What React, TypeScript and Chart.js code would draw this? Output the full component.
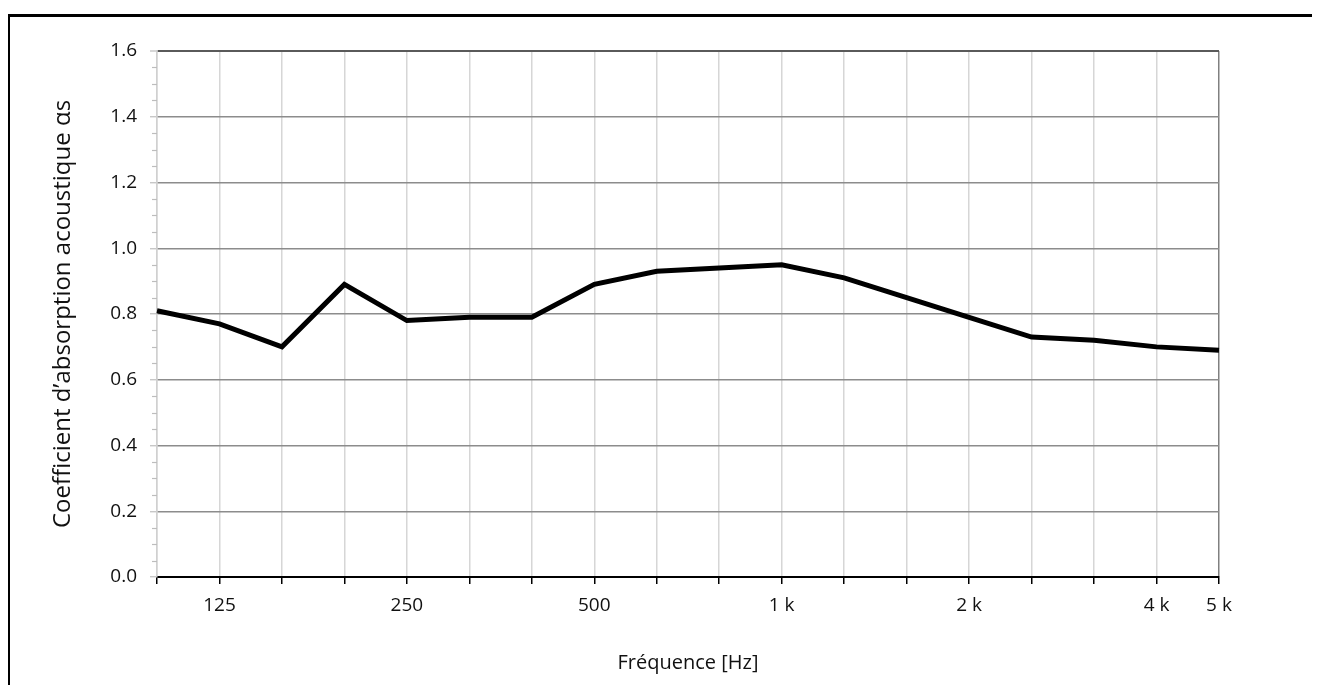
import React, { useEffect, useRef } from "react";
import { Chart, registerables } from "chart.js";

Chart.register(...registerables);

const frequencies = ["100", "125", "160", "200", "250", "315", "400", "500", "630", "800", "1000", "1250", "1600", "2000", "2500", "3150", "4000", "5000"];
const absorption = [0.81, 0.77, 0.70, 0.89, 0.78, 0.79, 0.79, 0.89, 0.93, 0.94, 0.95, 0.91, 0.85, 0.79, 0.73, 0.72, 0.70, 0.69];
const xTickLabels = ["", "125", "", "", "250", "", "", "500", "", "", "1 k", "", "", "2 k", "", "", "4 k", "5 k"];
const yTicks = [0, 0.2, 0.4, 0.6, 0.8, 1.0, 1.2, 1.4, 1.6];
const yMinorStep = 0.05;

const FONT = "'Open Sans', sans-serif";
const TEXT = "#111";

const minorTicks = {
  id: "minorTicks",
  afterDraw(chart: any) {
    const y = chart.scales.y;
    const ctx = chart.ctx;
    const left = chart.chartArea.left;
    ctx.save();
    ctx.strokeStyle = "#bdbdbd";
    ctx.lineWidth = 1.2;
    const min = yTicks[0];
    const max = yTicks[yTicks.length - 1];
    const n = Math.round((max - min) / yMinorStep);
    for (let i = 0; i <= n; i++) {
      if (i % 4 === 0) continue;
      const v = min + i * yMinorStep;
      const py = Math.round(y.getPixelForValue(v)) + 0.5;
      ctx.beginPath();
      ctx.moveTo(left - 5, py);
      ctx.lineTo(left, py);
      ctx.stroke();
    }
    ctx.restore();
  },
};

export default function App() {
  const ref = useRef<HTMLCanvasElement | null>(null);
  useEffect(() => {
    if (!ref.current) return;
    const chart = new Chart(ref.current, {
      type: "line",
      data: {
        labels: frequencies,
        datasets: [
          {
            data: absorption,
            borderColor: "#000",
            borderWidth: 5,
            pointRadius: 0,
            tension: 0,
            fill: false,
          },
        ],
      },
      options: {
        animation: false,
        responsive: false,
        maintainAspectRatio: false,
        layout: { padding: { left: 0, top: 43, right: 93, bottom: 0 } },
        plugins: { legend: { display: false }, tooltip: { enabled: false } },
        scales: {
          x: {
            type: "category",
            offset: false,
            afterFit: (s: any) => {
              s.height = 108;
            },
            grid: {
              color: (c: any) => (c.index === frequencies.length - 1 ? "#808080" : "#d6d6d6"),
              lineWidth: 1.5,
              tickColor: "#000",
              tickLength: 7,
              tickWidth: 1.5,
            },
            border: { color: "#000", width: 2 },
            ticks: {
              autoSkip: false,
              maxRotation: 0,
              minRotation: 0,
              padding: 10,
              color: TEXT,
              font: { family: FONT, size: 19 },
              callback: (_v: any, i: number) => xTickLabels[i],
            },
            title: {
              display: true,
              text: "Fréquence [Hz]",
              color: TEXT,
              font: { family: FONT, size: 20 },
              padding: { top: 0, bottom: 10 },
            },
          },
          y: {
            min: yTicks[0],
            max: yTicks[yTicks.length - 1],
            afterFit: (s: any) => {
              s.width = 149;
            },
            afterBuildTicks: (s: any) => {
              s.ticks = yTicks.map((v) => ({ value: v }));
            },
            grid: {
              color: (c: any) => (c.tick && Math.abs(c.tick.value - 1.6) < 1e-6 ? "#5a5a5a" : "#8c8c8c"),
              lineWidth: (c: any) => (c.tick && Math.abs(c.tick.value - 1.6) < 1e-6 ? 2 : 1.5),
              tickColor: "#bdbdbd",
              tickLength: 7,
              tickWidth: 1.2,
            },
            border: { color: "#d0d0d0", width: 1.5 },
            ticks: {
              padding: 13,
              color: TEXT,
              font: { family: FONT, size: 19 },
              callback: (v: any) => Number(v).toFixed(1),
            },
            title: {
              display: true,
              text: "Coefficient d’absorption acoustique αs",
              color: TEXT,
              font: { family: FONT, size: 24 },
              padding: { top: 41, bottom: 0 },
            },
          },
        },
      },
      plugins: [minorTicks],
    });
    return () => chart.destroy();
  }, []);

  return (
    <div style={{ position: "relative", width: 1304, height: 677, overflow: "hidden" }}>
      <div
        style={{
          position: "absolute",
          left: -1,
          top: 6,
          width: 1400,
          height: 800,
          border: "3px solid #000",
          boxSizing: "border-box",
        }}
      />
      <canvas ref={ref} width={1304} height={677} style={{ position: "absolute", left: 0, top: 0, width: 1304, height: 677 }} />
    </div>
  );
}
